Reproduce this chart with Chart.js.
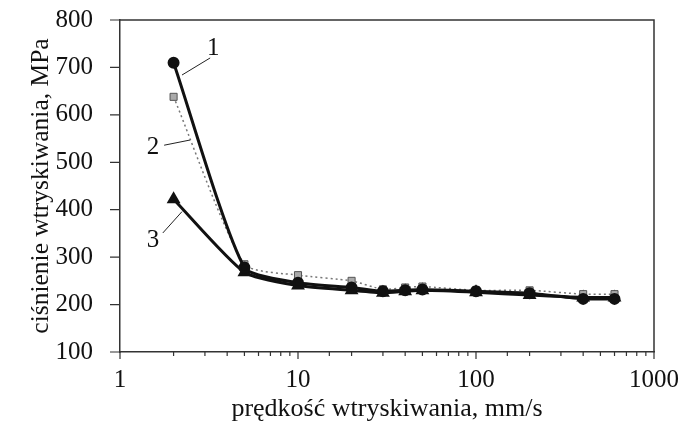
<!DOCTYPE html>
<html>
<head>
<meta charset="utf-8">
<script src="https://cdn.jsdelivr.net/npm/chart.js@4"></script>
<style>
  body { margin: 0; background: #fff; }
  #wrap { width: 681px; height: 427px; }
</style>
</head>
<body>
<div id="wrap"><canvas id="pressureChart"></canvas></div>
<script>
// injection speed, mm/s
const speeds = [2, 5, 10, 20, 30, 40, 50, 100, 200, 400, 600];
// injection pressure, MPa
const pressure1 = [710, 278, 246, 236, 228, 230, 232, 228, 224, 212, 212];
const pressure2 = [638, 285, 262, 250, 232, 236, 238, 230, 230, 222, 222];
const pressure3 = [422, 268, 240, 230, 225, 228, 230, 226, 220, 215, 215];
const yTicks = [100, 200, 300, 400, 500, 600, 700, 800];

// curve numbers and their leader lines (data coordinates)
const curveNames = ['1', '2', '3'];
const namePos = [[3.34, 741], [1.53, 532], [1.53, 336]];
const leaderFrom = [[3.21, 720], [1.77, 536], [1.74, 351]];
const leaderTo = [[2.23, 684], [2.48, 547], [2.23, 396]];

const serif = '"Liberation Serif", serif';
const toPoints = (vals) => speeds.map((s, i) => ({ x: s, y: vals[i] }));
const isDecade = (v) => { const l = Math.log10(v); return Math.abs(l - Math.round(l)) < 1e-9; };

const framePlugin = {
    id: 'frame',
    afterDraw(chart) {
        const { ctx, chartArea: a, scales: { x, y } } = chart;
        ctx.save();
        ctx.strokeStyle = '#333';
        ctx.lineWidth = 1.5;
        ctx.beginPath();
        ctx.moveTo(a.left, a.top);
        ctx.lineTo(a.right, a.top);
        ctx.lineTo(a.right, a.bottom);
        ctx.stroke();

        ctx.lineWidth = 1.2;
        ctx.beginPath();
        x.ticks.forEach(t => {
            const px = x.getPixelForValue(t.value);
            ctx.moveTo(px, a.bottom);
            ctx.lineTo(px, a.bottom + (isDecade(t.value) ? 7 : 4));
        });
        yTicks.forEach(v => {
            const py = y.getPixelForValue(v);
            ctx.moveTo(a.left, py);
            ctx.lineTo(a.left - 10, py);
        });
        ctx.stroke();

        ctx.strokeStyle = '#222';
        ctx.lineWidth = 1;
        ctx.beginPath();
        curveNames.forEach((n, i) => {
            ctx.moveTo(x.getPixelForValue(leaderFrom[i][0]), y.getPixelForValue(leaderFrom[i][1]));
            ctx.lineTo(x.getPixelForValue(leaderTo[i][0]), y.getPixelForValue(leaderTo[i][1]));
        });
        ctx.stroke();

        ctx.fillStyle = '#111';
        ctx.font = '25px ' + serif;
        ctx.textAlign = 'center';
        ctx.textBaseline = 'middle';
        curveNames.forEach((n, i) => {
            ctx.fillText(n, x.getPixelForValue(namePos[i][0]), y.getPixelForValue(namePos[i][1]));
        });
        ctx.restore();
    }
};

function drawChart() {
    new Chart(document.getElementById('pressureChart'), {
        type: 'line',
        data: {
            datasets: [{
                label: '1',
                data: toPoints(pressure1),
                borderColor: '#111',
                backgroundColor: '#111',
                borderWidth: 3,
                pointStyle: 'circle',
                pointRadius: 4.5,
                tension: 0.2
            }, {
                label: '2',
                data: toPoints(pressure2),
                borderColor: '#777',
                backgroundColor: '#aaa',
                borderWidth: 1.5,
                borderDash: [2, 3],
                pointStyle: 'rect',
                pointRadius: 5,
                pointBorderColor: '#555',
                pointBorderWidth: 1,
                tension: 0.2
            }, {
                label: '3',
                data: toPoints(pressure3),
                borderColor: '#111',
                backgroundColor: '#111',
                borderWidth: 3,
                pointStyle: 'triangle',
                pointRadius: 5,
                tension: 0.2
            }]
        },
        options: {
            responsive: true,
            maintainAspectRatio: false,
            animation: false,
            layout: { padding: { top: 20, right: 27, bottom: 0, left: 0 } },
            plugins: {
                legend: { display: false },
                tooltip: { enabled: false }
            },
            scales: {
                x: {
                    type: 'logarithmic',
                    min: 1,
                    max: 1000,
                    afterFit: (s) => { s.height = 75; s.paddingLeft = 0; s.paddingRight = 0; },
                    grid: { display: false, drawTicks: false },
                    border: { display: true, color: '#333', width: 1.5 },
                    ticks: {
                        autoSkip: false,
                        maxRotation: 0,
                        padding: 13,
                        color: '#111',
                        font: { family: serif, size: 25 },
                        callback: (v) => isDecade(v) ? String(v) : ''
                    },
                    title: {
                        display: true,
                        text: 'prędkość wtryskiwania, mm/s',
                        color: '#111',
                        font: { family: serif, size: 26 },
                        padding: { top: 0, bottom: 2 }
                    }
                },
                y: {
                    min: 100,
                    max: 800,
                    afterFit: (s) => { s.width = 120; s.paddingTop = 0; s.paddingBottom = 0; },
                    grid: { display: false, drawTicks: false },
                    border: { display: true, color: '#333', width: 1.5 },
                    ticks: {
                        stepSize: 100,
                        padding: 27,
                        color: '#111',
                        font: { family: serif, size: 25 }
                    },
                    title: {
                        display: true,
                        text: 'ciśnienie wtryskiwania, MPa',
                        color: '#111',
                        font: { family: serif, size: 25.5 },
                        padding: { top: 26, bottom: 0 }
                    }
                }
            }
        },
        plugins: [framePlugin]
    });
}

if (document.fonts && document.fonts.load) {
    document.fonts.load('25px "Liberation Serif"').then(drawChart, drawChart);
} else {
    drawChart();
}
</script>
</body>
</html>
